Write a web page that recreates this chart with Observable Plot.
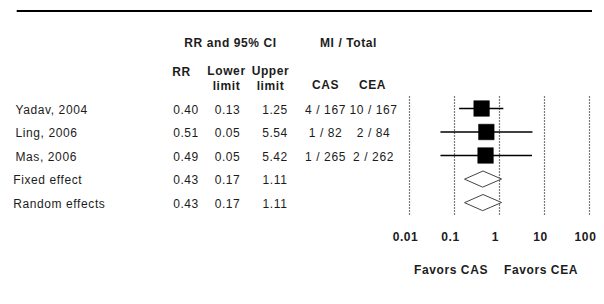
<!DOCTYPE html>
<html>
<head>
<meta charset="utf-8">
<script src="https://cdn.jsdelivr.net/npm/d3@7"></script>
<script src="https://cdn.jsdelivr.net/npm/@observablehq/plot@0.6"></script>
<style>
  html, body { margin: 0; padding: 0; background: #fff; }
  #chart { width: 604px; height: 304px; }
</style>
</head>
<body>
<div id="chart"></div>
<script>
// ---- data ----
const labels = ["Yadav, 2004", "Ling, 2006", "Mas, 2006", "Fixed effect", "Random effects"];
const kinds = ["study", "study", "study", "pooled", "pooled"];
const rr = [0.40, 0.51, 0.49, 0.43, 0.43];
const lowerLimit = [0.13, 0.05, 0.05, 0.17, 0.17];
const upperLimit = [1.25, 5.54, 5.42, 1.11, 1.11];
const miCAS = ["4 / 167", "1 / 82", "1 / 265", "", ""];
const miCEA = ["10 / 167", "2 / 84", "2 / 262", "", ""];
const xTicks = [0.01, 0.1, 1, 10, 100];
const favorLabels = ["Favors CAS", "Favors CEA"];
const favorAt = [0.1, 10];

(function () {
// ---- table built from arrays ----
const rows = labels.map((label, i) => ({
  i, label, kind: kinds[i], rr: rr[i], lo: lowerLimit[i], hi: upperLimit[i],
  cas: miCAS[i], cea: miCEA[i]
}));
const studies = rows.filter(d => d.kind === "study");
const pooled = rows.filter(d => d.kind === "pooled");

const H = 304, W = 604;
const fTop = 96, fBottom = 215;
const yRange = [108, 202];
const unitPx = (yRange[1] - yRange[0]) / (labels.length - 1);
const half = 8 / unitPx;
const diamonds = pooled.flatMap(d => [
  {i: d.i, x: d.lo, y: d.i},
  {i: d.i, x: d.rr, y: d.i - half},
  {i: d.i, x: d.hi, y: d.i},
  {i: d.i, x: d.rr, y: d.i + half}
]);

const ink = "#1c1c1c";
const ls = "0.6px";
const txt = (data, opts) => Plot.text(data, {fill: ink, fontSize: 12, lineAnchor: "middle", ...opts});
const hdr = (s, cx, cy, extra = {}) => txt([s], {
  text: d => d, frameAnchor: "top-left", dx: cx, dy: cy - fTop,
  textAnchor: "middle", fontWeight: "bold", ...extra
});

const chart = Plot.plot({
  width: W, height: H,
  marginTop: fTop, marginBottom: H - fBottom, marginLeft: 0, marginRight: 0,
  style: {fontFamily: "'Liberation Sans', Arial, sans-serif", fontSize: "12px", letterSpacing: ls, background: "white"},
  x: {type: "log", domain: [0.01, 100], range: [409, 589]},
  y: {type: "linear", domain: [0, labels.length - 1], range: yRange, axis: null},
  marks: [
    Plot.ruleX(xTicks, {stroke: "#7a7a7a", strokeWidth: 1.2, strokeDasharray: "2,1"}),
    Plot.axisX({ticks: xTicks, tickFormat: d => String(d), tickSize: 0, tickPadding: 17,
                fontWeight: "bold", fontSize: 12, dx: -4, fill: ink}),
    // CI lines and squares
    Plot.ruleY(studies, {y: "i", x1: "lo", x2: "hi", stroke: "black", strokeWidth: 1.3}),
    Plot.dot(studies, {x: "rr", y: "i", symbol: "square", r: 8.8, fill: "black", stroke: "black", strokeWidth: 0.5}),
    // pooled diamonds
    Plot.line(diamonds, {x: "x", y: "y", z: "i", curve: "linear-closed", fill: "white", stroke: "#444", strokeWidth: 1}),
    // table text
    txt(studies, {y: "i", text: "label", frameAnchor: "left", dx: 15, dy: 1.5, textAnchor: "start"}),
    txt(pooled, {y: "i", text: "label", frameAnchor: "left", dx: 12.7, dy: 1.5, textAnchor: "start"}),
    txt(rows, {y: "i", text: d => d.rr.toFixed(2), frameAnchor: "left", dx: 185.5, dy: 1.5, textAnchor: "middle"}),
    txt(rows, {y: "i", text: d => d.lo.toFixed(2), frameAnchor: "left", dx: 227, dy: 1.5, textAnchor: "middle"}),
    txt(rows, {y: "i", text: d => d.hi.toFixed(2), frameAnchor: "left", dx: 274.5, dy: 1.5, textAnchor: "middle"}),
    txt(rows, {y: "i", text: "cas", frameAnchor: "left", dx: 325, dy: 1.5, textAnchor: "middle"}),
    txt(rows, {y: "i", text: "cea", frameAnchor: "left", dx: 373, dy: 1.5, textAnchor: "middle"}),
    // headers
    hdr("RR and 95% CI", 230, 43),
    hdr("MI / Total", 348, 43),
    hdr("RR", 181, 72),
    hdr("Lower\nlimit", 226, 77.5, {lineHeight: 1.2}),
    hdr("Upper\nlimit", 270, 77.5, {lineHeight: 1.2}),
    hdr("CAS", 325, 85),
    hdr("CEA", 372, 85),
    // favors labels
    txt(favorLabels.map((s, k) => ({s, x: favorAt[k]})), {
      x: "x", text: "s", frameAnchor: "bottom", dy: 270 - fBottom, dx: -3.5,
      textAnchor: "middle", fontWeight: "bold"
    })
  ]
});

// top rule
d3.select(chart).append("line")
  .attr("x1", 16.7).attr("x2", 592).attr("y1", 11).attr("y2", 11)
  .attr("stroke", "black").attr("stroke-width", 2.2);

document.getElementById("chart").appendChild(chart);
})();
</script>
</body>
</html>
